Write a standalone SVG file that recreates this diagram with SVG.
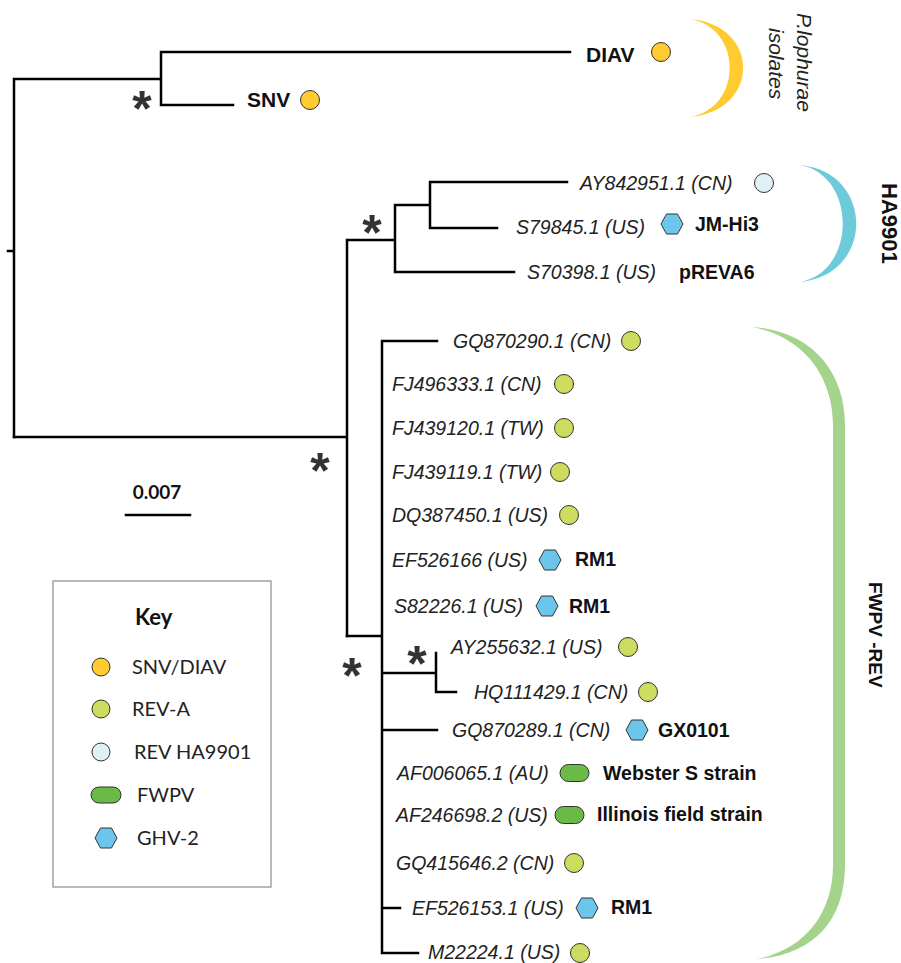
<svg xmlns="http://www.w3.org/2000/svg" xmlns:xlink="http://www.w3.org/1999/xlink" width="901" height="963" viewBox="0 0 901 963">
<style>
.br{stroke:#000;stroke-width:2.5;fill:none;stroke-linecap:square}
.acc{font-family:"Liberation Sans",Arial,sans-serif;font-style:italic;font-size:19.5px;fill:#222}
.lab{font-family:"Liberation Sans",Arial,sans-serif;font-weight:bold;font-size:19.5px;fill:#111}
.big{font-family:"Liberation Sans",Arial,sans-serif;font-weight:bold;font-size:21px;fill:#111}
.ast{font-family:"Liberation Sans",Arial,sans-serif;font-weight:bold;font-size:50px;fill:#333;text-anchor:middle}
.rot{font-family:"Liberation Sans",Arial,sans-serif;font-weight:bold;fill:#111}
.key{font-family:Lato,"Open Sans",sans-serif;font-size:20px;fill:#222}
.mk{stroke:#333;stroke-width:1}
.cS{fill:#FFCB31}
.cA{fill:#CDDB5E}
.cH{fill:#DFF1F6}
.hx{fill:#6CC5EB}
.pl{fill:#6BBA45}
</style>
<defs>
<polygon id="hex" points="-11,0 -5.5,-10 5.5,-10 11,0 5.5,10 -5.5,10"/>
</defs>

<g id="connectors">
<path class="br" d="M14,79 V437 M8,251 H14 M14,79 H161 M161,52 V105 M161,52 H570 M161,105 H233"/>
<path class="br" d="M14,437 H347 M347,240 V636 M347,240 H395 M395,205 V272 M395,205 H430 M430,182 V228 M430,182 H567 M430,228 H497 M395,272 H514"/>
<path class="br" d="M347,636 H382 M382,341 V953 M382,341 H437 M382,673 H436 M436,653 V692 M436,692 H456 M382,730 H437 M382,908 H400 M382,953 H418"/>
</g>

<g id="support">
<text class="ast" x="142" y="126">*</text>
<text class="ast" x="372" y="250">*</text>
<text class="ast" x="320" y="488">*</text>
<text class="ast" x="352" y="693">*</text>
<text class="ast" x="417" y="681">*</text>
</g>

<g id="clade-plophurae">
<path fill="#FFCB31" d="M690,19 C761,25 761,111 690,117 C743,108 743,28 690,19 Z"/>
<text font-family="Liberation Sans,Arial,sans-serif" font-style="italic" font-size="21" fill="#222" transform="translate(797,13) rotate(90)">P.lophurae</text>
<text font-family="Liberation Sans,Arial,sans-serif" font-style="italic" font-size="21" fill="#222" transform="translate(769,28) rotate(90)">isolates</text>
</g>
<g id="leaf-DIAV">
<text class="big" x="586" y="62">DIAV</text>
<circle class="mk cS" cx="661" cy="52" r="9.5"/>
</g>
<g id="leaf-SNV">
<text class="big" x="247" y="107">SNV</text>
<circle class="mk cS" cx="310" cy="100" r="9.5"/>
</g>

<g id="clade-HA9901">
<path fill="#6CCADB" d="M800,165 C875,172 875,275 800,282 C857,272 857,175 800,165 Z"/>
<text class="rot" font-size="22" transform="translate(882,183) rotate(90)">HA9901</text>
</g>
<g id="leaf-AY842951"><text class="acc" x="580" y="190">AY842951.1 (CN)</text><circle class="mk cH" cx="764" cy="183" r="9.5"/></g>
<g id="leaf-S79845"><text class="acc" x="516" y="234">S79845.1 (US)</text><use href="#hex" class="mk hx" x="672" y="224"/><text class="lab" x="695" y="231">JM-Hi3</text></g>
<g id="leaf-S70398"><text class="acc" x="527" y="279">S70398.1 (US)</text><text class="lab" x="679" y="279">pREVA6</text></g>

<g id="clade-FWPV-REV">
<path fill="#A4D48C" d="M752,327 C812,331 845,372 845,425 L845,865 C845,922 812,955 757,959 C803,950 833,915 833,865 L833,425 C833,378 805,337 752,327 Z"/>
<text class="rot" font-size="19" transform="translate(869,582) rotate(90)">FWPV -REV</text>
</g>
<g id="leaf-GQ870290"><text class="acc" x="453" y="348">GQ870290.1 (CN)</text><circle class="mk cA" cx="631" cy="341" r="9.5"/></g>
<g id="leaf-FJ496333"><text class="acc" x="392" y="391">FJ496333.1 (CN)</text><circle class="mk cA" cx="564" cy="384" r="9.5"/></g>
<g id="leaf-FJ439120"><text class="acc" x="392" y="435">FJ439120.1 (TW)</text><circle class="mk cA" cx="564" cy="428" r="9.5"/></g>
<g id="leaf-FJ439119"><text class="acc" x="392" y="479">FJ439119.1 (TW)</text><circle class="mk cA" cx="560" cy="472" r="9.5"/></g>
<g id="leaf-DQ387450"><text class="acc" x="392" y="522">DQ387450.1 (US)</text><circle class="mk cA" cx="569" cy="515" r="9.5"/></g>
<g id="leaf-EF526166"><text class="acc" x="392" y="567">EF526166 (US)</text><use href="#hex" class="mk hx" x="550" y="560"/><text class="lab" x="575" y="566">RM1</text></g>
<g id="leaf-S82226"><text class="acc" x="394" y="613">S82226.1 (US)</text><use href="#hex" class="mk hx" x="547" y="606"/><text class="lab" x="569" y="613">RM1</text></g>
<g id="leaf-AY255632"><text class="acc" x="451" y="654">AY255632.1 (US)</text><circle class="mk cA" cx="628" cy="647" r="9.5"/></g>
<g id="leaf-HQ111429"><text class="acc" x="474" y="699">HQ111429.1 (CN)</text><circle class="mk cA" cx="648" cy="692" r="9.5"/></g>
<g id="leaf-GQ870289"><text class="acc" x="452" y="737">GQ870289.1 (CN)</text><use href="#hex" class="mk hx" x="637" y="730"/><text class="lab" x="658" y="737">GX0101</text></g>
<g id="leaf-AF006065"><text class="acc" x="397" y="780">AF006065.1 (AU)</text><rect class="mk pl" x="560" y="764.5" width="29" height="17" rx="8.5"/><text class="lab" x="603" y="780">Webster S strain</text></g>
<g id="leaf-AF246698"><text class="acc" x="396" y="822">AF246698.2 (US)</text><rect class="mk pl" x="555" y="806.5" width="29" height="17" rx="8.5"/><text class="lab" x="597" y="821">Illinois field strain</text></g>
<g id="leaf-GQ415646"><text class="acc" x="396" y="870">GQ415646.2 (CN)</text><circle class="mk cA" cx="574" cy="863" r="9.5"/></g>
<g id="leaf-EF526153"><text class="acc" x="412" y="915">EF526153.1 (US)</text><use href="#hex" class="mk hx" x="587" y="908"/><text class="lab" x="611" y="914">RM1</text></g>
<g id="leaf-M22224"><text class="acc" x="428" y="959">M22224.1 (US)</text><circle class="mk cA" cx="580" cy="953" r="9.5"/></g>

<g id="scale-bar">
<text x="157" y="499" text-anchor="middle" font-family="Lato,'Open Sans',sans-serif" font-weight="bold" font-size="19" fill="#111">0.007</text>
<path class="br" d="M126,515 H190"/>
</g>

<g id="key">
<rect x="53" y="581" width="218" height="306" fill="#fff" stroke="#8a8a8a" stroke-width="1.2"/>
<text x="135" y="625" font-family="Lato,'Open Sans',sans-serif" font-weight="bold" font-size="22" fill="#111">Key</text>
<circle class="mk cS" cx="101" cy="667" r="9"/><text class="key" x="132" y="674">SNV/DIAV</text>
<circle class="mk cA" cx="101" cy="709" r="9"/><text class="key" x="132" y="716">REV-A</text>
<circle class="mk cH" cx="101" cy="752" r="9"/><text class="key" x="134" y="759">REV HA9901</text>
<rect class="mk pl" x="91" y="787" width="30" height="16" rx="8"/><text class="key" x="137" y="802">FWPV</text>
<use href="#hex" class="mk hx" x="106" y="838"/><text class="key" x="137" y="845">GHV-2</text>
</g>
</svg>
